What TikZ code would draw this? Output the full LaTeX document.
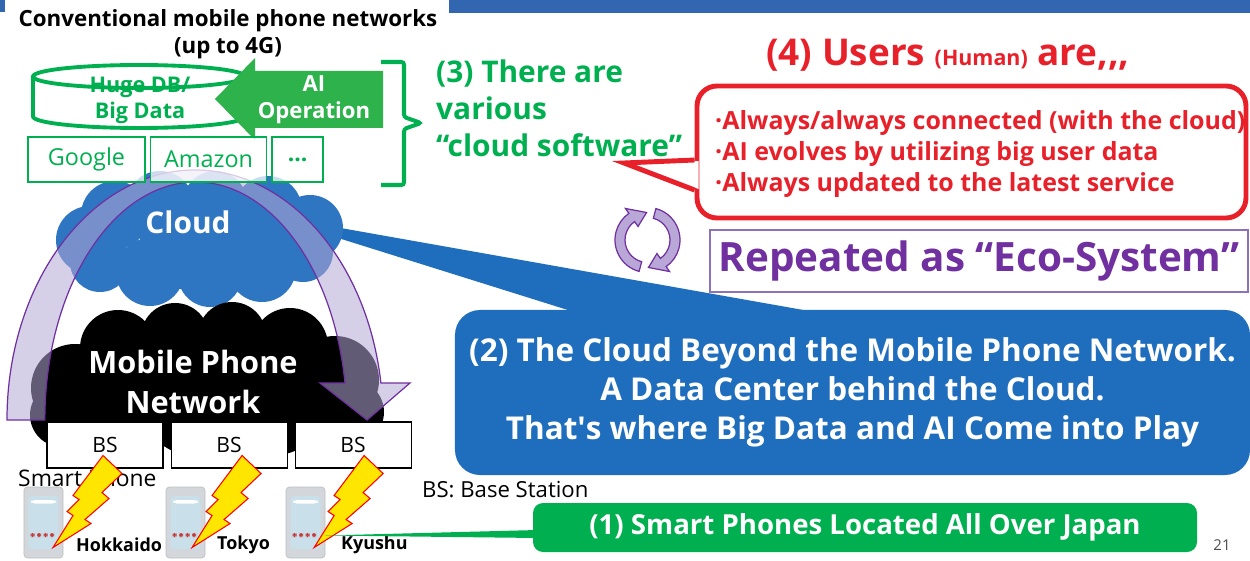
\documentclass[tikz,border=0pt]{standalone}
\usepackage{fontspec}
\setmainfont{Open Sans}
\usetikzlibrary{positioning}
\definecolor{topbar}{HTML}{3366B0}
\definecolor{dbgreen}{HTML}{00B050}
\definecolor{aigreen}{HTML}{2EB24B}
\definecolor{cloudblue}{HTML}{2E75C2}
\definecolor{calloutblue}{HTML}{1F6EBD}
\definecolor{userred}{HTML}{E8202A}
\definecolor{ecopurple}{HTML}{7030A0}
\definecolor{ecoframe}{HTML}{8E72B8}
\definecolor{loopfill}{HTML}{B9A7D8}
\definecolor{archfill}{HTML}{B4A7D6}
\definecolor{boltyellow}{HTML}{FFE600}
\definecolor{phonebody}{HTML}{D3D7DB}
\definecolor{phonescreen}{HTML}{C9DFEA}

\begin{document}
\begin{tikzpicture}[x=0.2mm,y=-0.2mm,
  swbox/.style={draw=dbgreen,line width=0.9pt,fill=white,fill opacity=0.75,text opacity=1,
    text=dbgreen,minimum height=9mm,font=\fontsize{13.3}{15}\selectfont},
  bsbox/.style={draw=black,line width=0.6pt,fill=white,minimum width=23.2mm,minimum height=9.2mm,
    font=\fontsize{12}{14}\selectfont},
  phone/.style={rounded corners=2pt,fill=phonebody,draw=black!25,line width=0.4pt,
    minimum width=7.8mm,minimum height=14.2mm,inner sep=0pt,
    path picture={
      \fill[phonescreen] ([shift={(0.9mm,-1.8mm)}]path picture bounding box.north west)
        rectangle ([shift={(-0.9mm,1.8mm)}]path picture bounding box.south east);
      \fill[white] ([shift={(1.4mm,-2.6mm)}]path picture bounding box.north west)
        rectangle ([shift={(-1.4mm,-3.3mm)}]path picture bounding box.north east);
      \foreach \k in {0,...,3}
        \fill[red!55!gray] ([shift={(1.3mm+\k*1.3mm,4.2mm)}]path picture bounding box.south west) rectangle +(0.8mm,0.8mm);
    }},
  city/.style={anchor=west,font=\bfseries\fontsize{10.2}{12}\selectfont},
  bolt/.style={fill=boltyellow,draw=red,line width=0.6pt,line join=miter}
]
\useasboundingbox (0,0) rectangle (1250,561);
\fill[topbar] (449,0) rectangle (1250,13);
\fill[topbar] (0,0) rectangle (5,12);

\node[font=\bfseries\fontsize{12.7}{15.4}\selectfont,align=center] (conv) at (228,34)
  {Conventional mobile phone networks\\(up to 4G)};

\draw[dbgreen,line width=2.2pt,fill=white] (33,76.5) -- (33,116.5)
  arc[start angle=180,end angle=0,x radius=106,y radius=11.5] -- (245,76.5);
\draw[dbgreen,line width=2.2pt] (139,76.5) ellipse[x radius=106,y radius=11.5];
\node[text=dbgreen,align=center,font=\bfseries\fontsize{12.3}{14.8}\selectfont] (bigdata) at (140,100)
  {Huge DB/\\Big Data};

\fill[aigreen] (383,71) -- (255,71) -- (255,58) -- (215,99) -- (255,140) -- (255,128) -- (383,128) -- cycle;
\node[text=white,align=center,font=\bfseries\fontsize{12.6}{15.4}\selectfont] (aiop) at (314,100)
  {AI\\Operation};

\draw[dbgreen,line width=2.3pt,rounded corners=1.5pt] (381,62) -- (404,62) -- (404,117) -- (421,123)
  -- (404,129) -- (404,185) -- (381,185);
\node[anchor=west,align=left,text=dbgreen,font=\bfseries\fontsize{17}{21}\selectfont] (various)
  at (430,108) {(3) There are\\various\\“cloud software”};

\node[fill=calloutblue,rounded corners=5mm,minimum width=159mm,minimum height=33mm,text=white,
  align=center,font=\bfseries\fontsize{17.9}{22.2}\selectfont] (beyond) at (852.5,392.5)
  {(2) The Cloud Beyond the Mobile Phone Network.\\A Data Center behind the Cloud.\\
   That\textquotesingle s where Big Data and AI Come into Play};
\coordinate (cloudtip) at (335,232);
\fill[calloutblue] ([yshift=1mm]cloudtip) -- ([xshift=75mm,yshift=-1mm]beyond.north west)
  -- ([xshift=25.6mm,yshift=-1mm]beyond.north west) -- ([yshift=-1mm]cloudtip) -- cycle;

\foreach \cx/\cy/\r in {90/240/34,115/215/34,160/205/34,215/203/32,268/210/34,310/228/33,
    100/262/30,150/272/34,210/275/32,262/268/34,303/252/30,190/240/50,245/238/42}
  \fill[cloudblue] (\cx,\cy) circle[radius=\r];
\node[text=white,font=\bfseries\fontsize{17}{18}\selectfont] (cloud) at (188,222) {Cloud};

\foreach \cx/\cy/\r in {75/388/44,118/348/38,175/337/34,232/336/34,290/346/38,335/380/44,
    200/392/65,62/415/32,352/412/32,130/405/50,275/405/50}
  \fill[black] (\cx,\cy) circle[radius=\r];
\node[text=white,align=center,font=\bfseries\fontsize{17.5}{22.8}\selectfont] (mpn) at (193,382)
  {Mobile Phone\\Network};

\filldraw[fill=archfill,fill opacity=0.55,draw=ecopurple,line width=0.7pt] (7,420)
  arc[start angle=180,end angle=351.5,x radius=188,y radius=250] -- (410,383) -- (367,420) -- (320,383)
  -- (345,383) arc[start angle=351.05,end angle=180,x radius=151,y radius=238] -- cycle;

\node[swbox,minimum width=23.4mm] (google) at (86.5,159.5) {Google};
\node[swbox,minimum width=23.2mm,right=0.8mm of google] (amazon) {Amazon};
\node[swbox,minimum width=10.2mm,right=0.8mm of amazon,font=\bfseries\fontsize{13}{15}\selectfont] (more) {...};

\node[bsbox] (bs1) at (105,445) {BS};
\node[bsbox,right=1.4mm of bs1] (bs2) {BS};
\node[bsbox,right=1.4mm of bs2] (bs3) {BS};

\node[anchor=west,font=\fontsize{13}{15}\selectfont] (smartphone) at (12,478) {Smart Phone};

\foreach \i/\px in {1/43.5,2/185.5,3/305.5}
  \node[phone] (ph\i) at (\px,522.5) {};

\foreach \i/\dx in {1/-2,2/13,3/11}
  \filldraw[bolt,shift={([xshift=\dx*0.2mm]bs\i.south)}] (0,-13) -- (19,5) -- (-1,24) -- (6,30)
    -- (-18,51) -- (-12,55) -- (-50,79) -- (-30,47) -- (-36,43) -- (-24,31) -- (-30,27) -- cycle;

\node[city] (hokkaido) at (70,545) {Hokkaido};
\node[city] (tokyo) at (211,545) {Tokyo};
\node[city] (kyushu) at (335,545) {Kyushu};

\node[anchor=west,font=\fontsize{12.6}{15}\selectfont] (bslegend) at (416,490) {BS: Base Station};

\node[fill=dbgreen,rounded corners=2mm,minimum width=132.8mm,minimum height=9.8mm,text=white,
  font=\bfseries\fontsize{15.7}{17}\selectfont] (allover) at (865,527.5) {(1) Smart Phones Located All Over Japan};
\fill[dbgreen] ([yshift=-2.6mm]ph3.east) -- ([xshift=1mm,yshift=-0.5mm]allover.west)
  -- ([xshift=1mm,yshift=-2.1mm]allover.west) -- cycle;

\node[text=userred,font=\bfseries\fontsize{21}{24}\selectfont] (users) at (948,55)
  {(4) Users {\fontsize{12.2}{14}\selectfont (Human)} are{,}{,}{,}};

\node[draw=userred,line width=2.8pt,fill=white,rounded corners=4mm,minimum width=109.8mm,
  minimum height=26.4mm] (voice) at (971.5,152) {};
\coordinate (voicetip) at (624,163);
\fill[white] ([xshift=0.8mm,yshift=-1.8mm]voice.west) -- (voicetip) -- ([xshift=0.8mm,yshift=-7.4mm]voice.west) -- cycle;
\draw[userred,line width=2.8pt,line join=miter] ([yshift=-1.6mm]voice.west) -- (voicetip) -- ([yshift=-7.6mm]voice.west);
\node[anchor=west,align=left,text=userred,font=\bfseries\fontsize{14.2}{17.6}\selectfont] (uservoice) at (709,154)
  {·Always/always connected (with the cloud)\\·AI evolves by utilizing big user data\\·Always updated to the latest service};

\begin{scope}[shift={(647.5,240)},draw=ecopurple,fill=loopfill,line width=0.7pt]
  \filldraw (105:32.5) arc[start angle=105,end angle=235,radius=32.5] -- (235:38.5) -- (268:27.5)
    -- (235:16.5) -- (235:22.5) arc[start angle=235,end angle=105,radius=22.5] -- cycle;
  \filldraw (285:32.5) arc[start angle=285,end angle=415,radius=32.5] -- (415:38.5) -- (448:27.5)
    -- (415:16.5) -- (415:22.5) arc[start angle=415,end angle=285,radius=22.5] -- cycle;
\end{scope}

\node[draw=ecoframe,line width=0.9pt,text=ecopurple,font=\bfseries\fontsize{23}{26}\selectfont,
  minimum width=107.6mm,minimum height=12.4mm] (eco) at (979,261) {Repeated as “Eco-System”};

\node[text=black!70,font=\fontsize{8.5}{10}\selectfont] (pagenum) at (1222,545) {21};
\end{tikzpicture}
\end{document}
